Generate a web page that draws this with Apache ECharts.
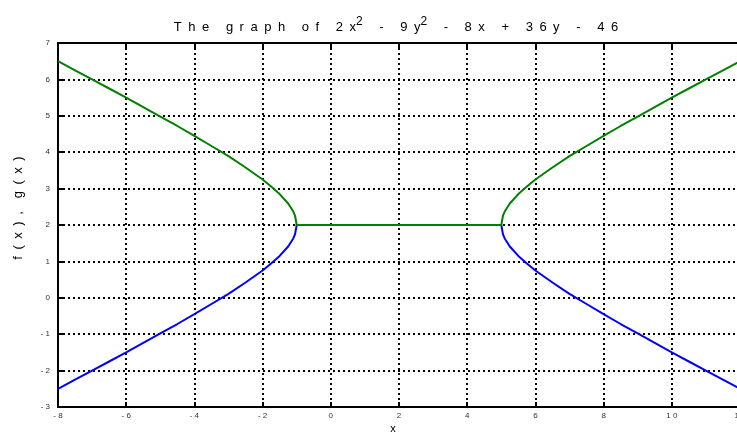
<!DOCTYPE html>
<html>
<head>
<meta charset="utf-8">
<script src="https://cdn.jsdelivr.net/npm/echarts@6/dist/echarts.min.js"></script>
<style>
  html, body { margin: 0; padding: 0; background: #fff; }
  #chart { width: 737px; height: 432px; }
</style>
</head>
<body>
<div id="chart"></div>
<script>
// Sample positions along x (dense near the two vertices at x = -1 and x = 5)
const xValues = [-8, -7.5, -7, -6.5, -6, -5.5, -5, -4.5, -4, -3.5, -3, -2.5, -2, -1.75, -1.5, -1.25, -1.1, -1.05, -1,
                 5, 5.05, 5.1, 5.25, 5.5, 5.75, 6, 6.5, 7, 7.5, 8, 8.5, 9, 9.5, 10, 10.5, 11, 11.5, 12];
// f(x): upper branch (flat at 2 between the vertices)
const fValues = [6.50, 6.25, 6.00, 5.75, 5.50, 5.24, 4.98, 4.72, 4.45, 4.17, 3.89, 3.58, 3.25, 3.06, 2.85, 2.59, 2.37, 2.26, 2.00,
                 2.00, 2.26, 2.37, 2.59, 2.85, 3.06, 3.25, 3.58, 3.89, 4.17, 4.45, 4.72, 4.98, 5.24, 5.50, 5.75, 6.00, 6.25, 6.50];
// g(x): lower branch (flat at 2 between the vertices)
const gValues = [-2.50, -2.25, -2.00, -1.75, -1.50, -1.24, -0.98, -0.72, -0.45, -0.17, 0.11, 0.42, 0.75, 0.94, 1.15, 1.41, 1.63, 1.74, 2.00,
                 2.00, 1.74, 1.63, 1.41, 1.15, 0.94, 0.75, 0.42, 0.11, -0.17, -0.45, -0.72, -0.98, -1.24, -1.50, -1.75, -2.00, -2.25, -2.50];
// Axis ranges / tick steps
const xTicks = { min: -8, max: 12, step: 2 };
const yTicks = { min: -3, max: 7, step: 1 };

const gap = '\u2002';
const wordGap = '\u2002\u2002 ';
const spaced = s => s.split('').join(gap);

const titleText = [
  spaced('The'), spaced('graph'), spaced('of'),
  spaced('2x') + '{s|2}', '-', spaced('9y') + '{s|2}', '-',
  spaced('8x'), '+', spaced('36y'), '-', spaced('46')
].join(wordGap);

const yName = spaced('f(x),') + '\u2002\u2002' + spaced('g(x)');
const tickFmt = v => String(v).split('').join(' ');

const pair = (xs, ys) => xs.map((x, i) => [x, ys[i]]);

const chart = echarts.init(document.getElementById('chart'), null, { renderer: 'canvas' });
const font = 'Liberation Sans, Arial, Helvetica, sans-serif';

chart.setOption({
  animation: false,
  backgroundColor: '#ffffff',
  title: {
    text: titleText,
    left: 391,
    textAlign: 'center',
    top: 11,
    textStyle: {
      fontFamily: font, fontSize: 13, fontWeight: 'normal', color: '#000',
      rich: {
        s: { fontFamily: font, fontSize: 12, color: '#000', padding: [0, 0, 10, 0] }
      }
    }
  },
  grid: {
    left: 58, right: -3, top: 43, bottom: 25,
    outerBoundsMode: 'none',
    containLabel: false,
    show: true, borderColor: '#000', borderWidth: 2
  },
  xAxis: [{
    type: 'value',
    min: xTicks.min, max: xTicks.max, interval: xTicks.step,
    name: 'x', nameLocation: 'middle', nameGap: 16, nameMoveOverlap: false,
    nameTextStyle: { fontFamily: font, fontSize: 11, color: '#000', padding: [0, 12, 0, 0] },
    axisLine: { show: true, onZero: false, lineStyle: { color: '#000', width: 2 } },
    axisTick: { show: true, inside: true, length: 5, lineStyle: { color: '#000', width: 2 } },
    axisLabel: { formatter: tickFmt, fontFamily: font, fontSize: 8, color: '#333', margin: 5 },
    splitLine: { show: true, lineStyle: { color: '#000', width: 2, type: [2, 3] } }
  }, {
    type: 'value', position: 'top',
    min: xTicks.min, max: xTicks.max, interval: xTicks.step,
    axisLine: { show: true, onZero: false, lineStyle: { color: '#000', width: 2 } },
    axisTick: { show: true, inside: true, length: 5, lineStyle: { color: '#000', width: 2 } },
    axisLabel: { show: false },
    splitLine: { show: false }
  }],
  yAxis: {
    type: 'value',
    min: yTicks.min, max: yTicks.max, interval: yTicks.step,
    name: yName, nameLocation: 'middle', nameGap: 33,
    nameTextStyle: { fontFamily: font, fontSize: 13, color: '#000', padding: [0, 0, 0, 34] },
    axisLine: { show: true, onZero: false, lineStyle: { color: '#000', width: 2 } },
    axisTick: { show: true, inside: true, length: 5, lineStyle: { color: '#000', width: 2 } },
    axisLabel: { formatter: tickFmt, fontFamily: font, fontSize: 8, color: '#333', margin: 8 },
    splitLine: { show: true, lineStyle: { color: '#000', width: 2, type: [2, 3] } }
  },
  series: [{
    name: 'g(x)', type: 'line', data: pair(xValues, gValues),
    showSymbol: false, symbol: 'none',
    lineStyle: { color: '#0000ff', width: 2 }, itemStyle: { color: '#0000ff' }, z: 3
  }, {
    name: 'f(x)', type: 'line', data: pair(xValues, fValues),
    showSymbol: false, symbol: 'none',
    lineStyle: { color: '#008000', width: 2 }, itemStyle: { color: '#008000' }, z: 4
  }]
});
</script>
</body>
</html>
